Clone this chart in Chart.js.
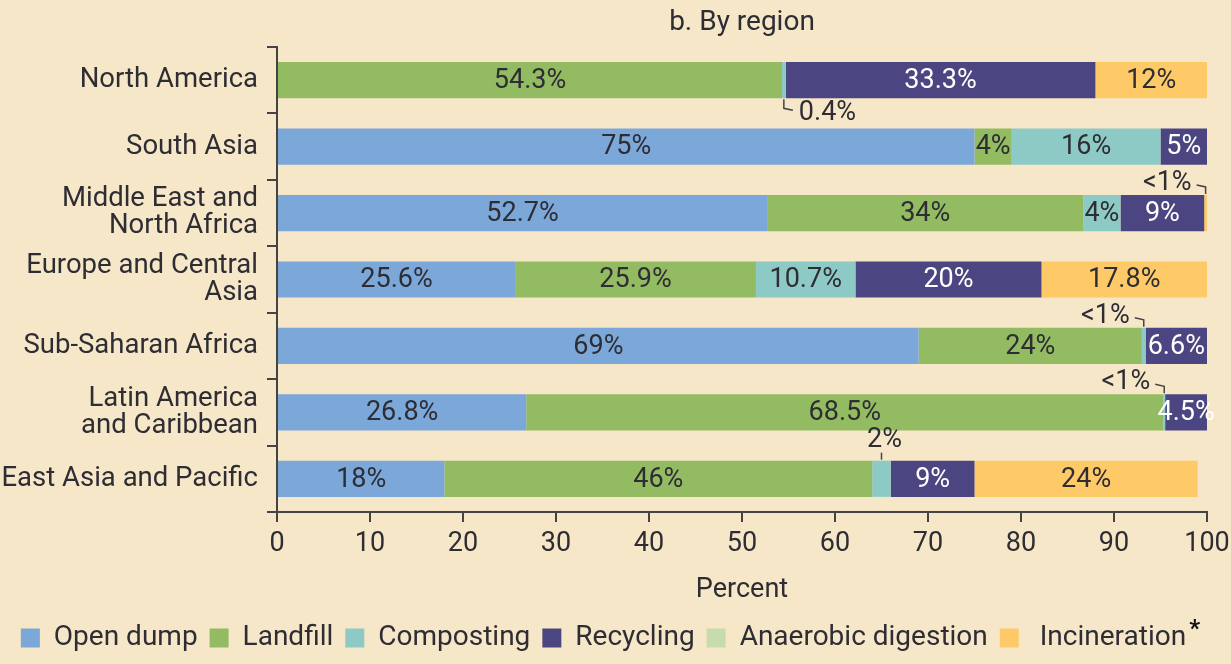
<!DOCTYPE html>
<html>
<head>
<meta charset="utf-8">
<script src="https://cdn.jsdelivr.net/npm/chart.js@4"></script>
<style>
  html, body { margin: 0; padding: 0; background: #f7e7c9; }
  #wrap { width: 1231px; height: 664px; }
</style>
</head>
<body>
<div id="wrap"><canvas id="chart"></canvas></div>
<script>
// data (percent of waste)
const regions = ['North America', 'South Asia', ['Middle East and', 'North Africa'],
  ['Europe and Central', 'Asia'], 'Sub-Saharan Africa', ['Latin America', 'and Caribbean'],
  'East Asia and Pacific'];
const openDump     = [0, 75, 52.7, 25.6, 69, 26.8, 18];
const landfill     = [54.3, 4, 34, 25.9, 24, 68.5, 46];
const composting   = [0.4, 16, 4, 10.7, 0.4, 0.2, 2];
const recycling    = [33.3, 5, 9, 20, 6.6, 4.5, 9];
const anaerobic    = [0, 0, 0, 0, 0, 0, 0];
const incineration = [12, 0, 0.3, 17.8, 0, 0, 24];
const xTicks = [0, 10, 20, 30, 40, 50, 60, 70, 80, 90, 100];

// small segments labelled outside the bar
const callouts = [
  { row: 0, set: 2, text: '0.4%', kind: 'below' },
  { row: 2, set: 5, text: '<1%', kind: 'aboveLeft' },
  { row: 4, set: 2, text: '<1%', kind: 'aboveLeft' },
  { row: 5, set: 2, text: '<1%', kind: 'aboveLeft' },
  { row: 6, set: 2, text: '2%', kind: 'above' },
];

const ink = '#2d2d33';
const font = 'Roboto';

function isCallout(row, set) {
  return callouts.some(c => c.row === row && c.set === set);
}

const valueLabels = {
  id: 'valueLabels',
  afterDatasetsDraw(chart) {
    const ctx = chart.ctx;
    const area = chart.chartArea;
    ctx.save();

    // title, centred over the plot area
    ctx.font = '28px ' + font;
    ctx.fillStyle = ink;
    ctx.textAlign = 'center';
    ctx.textBaseline = 'middle';
    ctx.fillText('b. By region', (area.left + area.right) / 2, 23);

    ctx.font = '27px ' + font;
    chart.data.datasets.forEach((ds, di) => {
      chart.getDatasetMeta(di).data.forEach((bar, i) => {
        const v = ds.data[i];
        if (!v || isCallout(i, di)) return;
        ctx.fillStyle = di === 3 ? '#ffffff' : ink;
        ctx.fillText(v + '%', (bar.x + bar.base) / 2, bar.y + 1);
      });
    });

    ctx.strokeStyle = '#444';
    ctx.lineWidth = 1.5;
    ctx.fillStyle = ink;
    callouts.forEach(c => {
      const bar = chart.getDatasetMeta(c.set).data[c.row];
      const ax = (bar.x + bar.base) / 2;
      const top = bar.y - bar.height / 2;
      const bottom = bar.y + bar.height / 2;
      ctx.beginPath();
      if (c.kind === 'below') {
        ctx.moveTo(ax, bottom + 1);
        ctx.lineTo(ax, bottom + 10);
        ctx.lineTo(ax + 9, bottom + 12);
        ctx.stroke();
        ctx.textAlign = 'left';
        ctx.fillText(c.text, ax + 15, bottom + 15);
      } else if (c.kind === 'aboveLeft') {
        ctx.moveTo(ax, top - 1);
        ctx.lineTo(ax, top - 8);
        ctx.lineTo(ax - 9, top - 10);
        ctx.stroke();
        ctx.textAlign = 'right';
        ctx.fillText(c.text, ax - 14, top - 12);
      } else {
        ctx.moveTo(ax, top - 1);
        ctx.lineTo(ax, top - 8);
        ctx.stroke();
        ctx.textAlign = 'center';
        ctx.fillText(c.text, ax + 3, top - 20);
      }
    });

    // asterisk after "Incineration" in the legend
    const boxes = chart.legend.legendHitBoxes;
    const last = boxes[boxes.length - 1];
    ctx.font = 'bold 24px ' + font;
    ctx.fillStyle = '#111';
    ctx.textAlign = 'left';
    ctx.fillText('*', last.left + last.width + 3, last.top + 6);
    ctx.restore();
  }
};

function series(label, data, color) {
  return { label, data, backgroundColor: color, borderWidth: 0,
    barPercentage: 0.545, categoryPercentage: 1 };
}

new Chart(document.getElementById('chart'), {
  type: 'bar',
  data: {
    labels: regions,
    datasets: [
      series('Open dump', openDump, '#7ba7d9'),
      series('Landfill', landfill, '#93bb61'),
      series('Composting', composting, '#8ecac5'),
      series('Recycling', recycling, '#4b4681'),
      series('Anaerobic digestion', anaerobic, '#c6dcac'),
      series(' Incineration', incineration, '#fdca67'),
    ]
  },
  options: {
    indexAxis: 'y',
    responsive: true,
    maintainAspectRatio: false,
    animation: false,
    layout: { padding: { top: 47, right: 24, bottom: 2, left: 0 } },
    plugins: {
      title: { display: false },
      legend: {
        position: 'bottom',
        labels: {
          color: ink,
          font: { family: font, size: 28 },
          boxWidth: 19,
          boxHeight: 19,
          padding: 12
        }
      },
      tooltip: { enabled: false }
    },
    scales: {
      x: {
        stacked: true,
        min: 0,
        max: 100,
        afterBuildTicks: s => { s.ticks = xTicks.map(v => ({ value: v })); },
        afterFit: s => { s.height = 100; s.paddingRight = 0; s.paddingLeft = 0; },
        ticks: { color: ink, font: { family: font, size: 27 }, padding: 6 },
        grid: { drawOnChartArea: false, drawTicks: true, tickLength: 10, color: '#444', lineWidth: 2 },
        border: { color: '#444', width: 2 },
        title: {
          display: true,
          text: 'Percent',
          color: ink,
          font: { family: font, size: 27 },
          padding: { top: 0, bottom: 6 }
        }
      },
      y: {
        stacked: true,
        afterFit: s => { s.width = 277; s.paddingTop = 0; s.paddingBottom = 0; },
        ticks: { color: ink, font: { family: font, size: 27.5, lineHeight: 0.98 }, padding: 9 },
        grid: { offset: true, drawOnChartArea: false, drawTicks: true, tickLength: 10, color: '#444', lineWidth: 2 },
        border: { color: '#444', width: 2 }
      }
    }
  },
  plugins: [valueLabels]
});
</script>
</body>
</html>
